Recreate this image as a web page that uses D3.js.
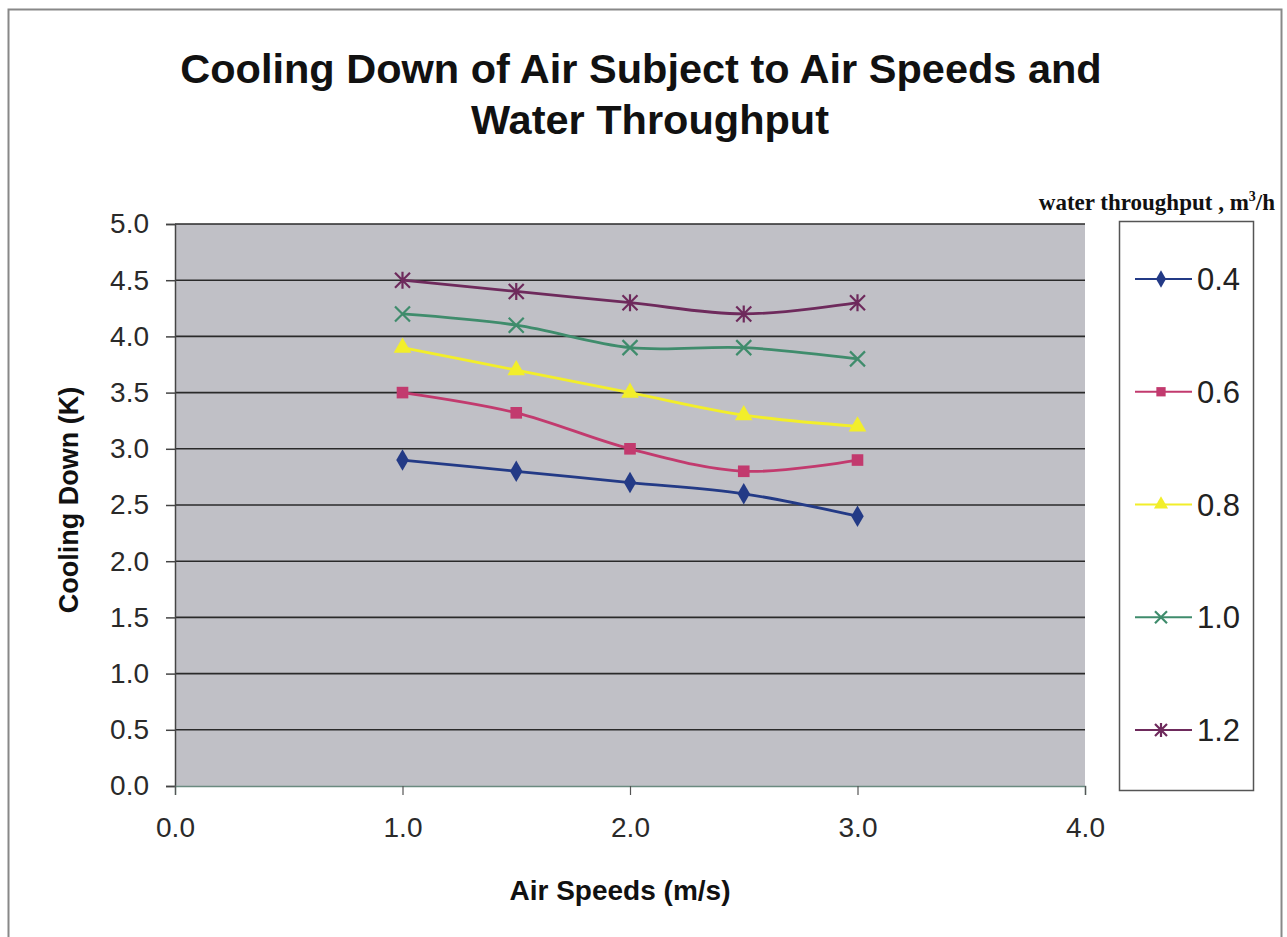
<!DOCTYPE html>
<html>
<head>
<meta charset="utf-8">
<script src="https://cdn.jsdelivr.net/npm/d3@7"></script>
<style>
  body { margin: 0; background: #fff; }
  text { font-family: "Liberation Sans", Arial, sans-serif; }
</style>
</head>
<body>
<div id="plot"></div>
<script>
const airSpeeds = [1.0, 1.5, 2.0, 2.5, 3.0];
const seriesNames = ["0.4", "0.6", "0.8", "1.0", "1.2"];
const s04 = [2.9, 2.8, 2.7, 2.6, 2.4];
const s06 = [3.5, 3.32, 3.0, 2.8, 2.9];
const s08 = [3.9, 3.7, 3.5, 3.3, 3.2];
const s10 = [4.2, 4.1, 3.9, 3.9, 3.8];
const s12 = [4.5, 4.4, 4.3, 4.2, 4.3];
const xTicks = [0, 1, 2, 3, 4];
const yTicks = [0, 0.5, 1, 1.5, 2, 2.5, 3, 3.5, 4, 4.5, 5];

const colors = ["#233a86", "#c23a6e", "#f2ee2a", "#3f8c6c", "#6e2a5c"];
const symbols = [d3.symbolDiamond, d3.symbolSquare, d3.symbolTriangle, "x", "star"];
const series = [s04, s06, s08, s10, s12].map((vals, i) => ({
    name: seriesNames[i],
    color: colors[i],
    symbol: symbols[i],
    points: vals.map((v, j) => ({x: airSpeeds[j], y: v}))
}));

const W = 1287, H = 937;
const margin = {top: 224, right: 202, bottom: 151, left: 175},
    width = W - margin.left - margin.right,
    height = H - margin.top - margin.bottom;

const root = d3.select("#plot")
    .append("svg")
    .attr("width", W)
    .attr("height", H);

// outer chart border
root.append("rect")
    .attr("x", 8.5).attr("y", 9.5)
    .attr("width", 1273).attr("height", 940)
    .attr("fill", "none")
    .attr("stroke", "#888")
    .attr("stroke-width", 2);

root.append("text")
    .attr("x", 641).attr("y", 83)
    .attr("text-anchor", "middle")
    .style("font-size", "41.5px").style("font-weight", "bold")
    .attr("fill", "#111")
    .text("Cooling Down of Air Subject to Air Speeds and");
root.append("text")
    .attr("x", 650).attr("y", 134)
    .attr("text-anchor", "middle")
    .style("font-size", "41.5px").style("font-weight", "bold")
    .attr("fill", "#111")
    .text("Water Throughput");

const svg = root.append("g")
    .attr("transform", `translate(${margin.left},${margin.top})`);

const x = d3.scaleLinear().domain([0, 4]).range([0, width]);
const y = d3.scaleLinear().domain([0, 5]).range([height, 0]);

svg.append("rect")
    .attr("width", width).attr("height", height)
    .attr("fill", "#c0c0c6");

// gridlines
svg.append("g")
    .selectAll("line")
    .data(yTicks.filter(d => d > 0))
    .enter().append("line")
    .attr("x1", 0).attr("x2", width)
    .attr("y1", d => y(d)).attr("y2", d => y(d))
    .attr("stroke", "#2a2a2a")
    .attr("stroke-width", 1.6);

const yAxis = svg.append("g")
    .call(d3.axisLeft(y).tickValues(yTicks).tickFormat(d3.format(".1f")).tickSize(9).tickPadding(17));
yAxis.select(".domain").attr("stroke", "#444").attr("stroke-width", 1.5);
yAxis.selectAll(".tick line").attr("stroke", "#444").attr("stroke-width", 1.5);
yAxis.selectAll("text").style("font-size", "28px").attr("fill", "#2a2a2a");

const xAxis = svg.append("g")
    .attr("transform", `translate(0,${height})`)
    .call(d3.axisBottom(x).tickValues(xTicks).tickFormat(d3.format(".1f")).tickSize(9).tickPadding(22));
xAxis.select(".domain").attr("stroke", "#6a8a80").attr("stroke-width", 1.5);
xAxis.selectAll(".tick line").attr("stroke", "#555").attr("stroke-width", 1.2);
xAxis.selectAll("text").style("font-size", "28px").attr("fill", "#2a2a2a");

function drawMarker(g, s, size) {
    if (s.symbol === "x" || s.symbol === "star") {
        const r = size;
        g.append("path")
            .attr("d", `M${-r},${-r}L${r},${r}M${-r},${r}L${r},${-r}` +
                (s.symbol === "star" ? `M0,${-r - 1}L0,${r + 1}` : ""))
            .attr("stroke", s.color)
            .attr("stroke-width", 2.2)
            .attr("fill", "none");
    } else {
        g.append("path")
            .attr("d", d3.symbol().type(s.symbol).size(size * size * 2.4)())
            .attr("fill", s.color);
    }
}

const line = d3.line()
    .x(d => x(d.x))
    .y(d => y(d.y))
    .curve(d3.curveCatmullRom.alpha(0.5));

series.forEach(s => {
    svg.append("path")
        .datum(s.points)
        .attr("fill", "none")
        .attr("stroke", s.color)
        .attr("stroke-width", 2.8)
        .attr("d", line);

    s.points.forEach(p => {
        const g = svg.append("g")
            .attr("transform", `translate(${x(p.x)},${y(p.y)})`);
        drawMarker(g, s, 7.5);
    });
});

svg.append("text")
    .attr("transform", "rotate(-90)")
    .attr("x", -height / 2 + 5)
    .attr("y", -margin.left + 78)
    .attr("text-anchor", "middle")
    .style("font-size", "27px").style("font-weight", "bold")
    .attr("fill", "#111")
    .text("Cooling Down (K)");

svg.append("text")
    .attr("x", 445)
    .attr("y", height + 114)
    .attr("text-anchor", "middle")
    .style("font-size", "28px").style("font-weight", "bold")
    .attr("fill", "#111")
    .text("Air Speeds (m/s)");

// legend
const legendTitle = root.append("text")
    .attr("x", 1275).attr("y", 210)
    .attr("text-anchor", "end")
    .style("font-family", "'Liberation Serif', 'Times New Roman', serif")
    .style("font-size", "23px").style("font-weight", "bold")
    .attr("fill", "#111");
legendTitle.append("tspan").text("water throughput , m");
legendTitle.append("tspan").attr("dy", -9).style("font-size", "14px").text("3");
legendTitle.append("tspan").attr("dy", 9).text("/h");

root.append("rect")
    .attr("x", 1119.5).attr("y", 221.5)
    .attr("width", 134).attr("height", 569)
    .attr("fill", "#fff")
    .attr("stroke", "#555")
    .attr("stroke-width", 1.5);

const legendY = d3.scalePoint().domain(seriesNames).range([279, 730]);
series.forEach(s => {
    const g = root.append("g").attr("transform", `translate(0,${legendY(s.name)})`);
    g.append("line")
        .attr("x1", 1135).attr("x2", 1192)
        .attr("stroke", s.color).attr("stroke-width", 2);
    const m = g.append("g").attr("transform", "translate(1161,0)");
    drawMarker(m, s, 6);
    g.append("text")
        .attr("x", 1197).attr("y", 11)
        .style("font-size", "31px")
        .attr("fill", "#222")
        .text(s.name);
});
</script>
</body>
</html>
